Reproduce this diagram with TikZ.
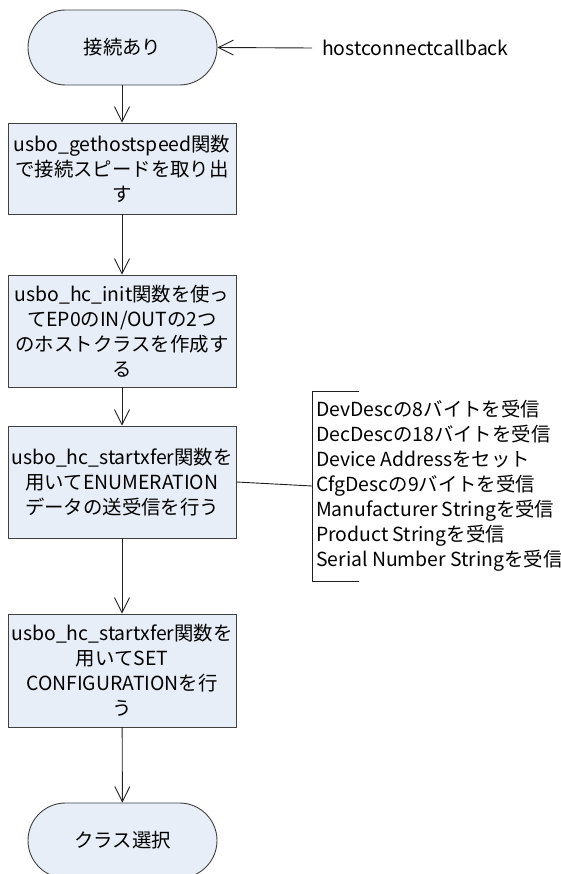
\documentclass[tikz,border=0pt]{standalone}
\usepackage{fontspec}
\setmainfont{Noto Sans CJK JP}
\usetikzlibrary{arrows.meta}
\definecolor{boxfill}{HTML}{E8EEF8}
\definecolor{boxline}{HTML}{404040}
\definecolor{conn}{HTML}{202020}
\tikzset{
  procbox/.style={draw=boxline, fill=boxfill, line width=0.9pt, minimum width=228pt, align=center, inner sep=0pt, font=\fontsize{19.4}{25}\selectfont},
  termbox/.style={draw=boxline, fill=boxfill, line width=0.9pt, minimum width=189pt, minimum height=75pt, rounded corners=37.5pt, inner sep=0pt, font=\fontsize{19.4}{25}\selectfont},
  flow/.style={draw=conn, line width=0.9pt, -{Straight Barb[length=15pt,width=15pt,line width=0.9pt]}},
  plain/.style={draw=conn, line width=0.9pt},
  lbl/.style={inner sep=0pt, align=left, font=\fontsize{19.4}{25}\selectfont}
}
\begin{document}
\begin{tikzpicture}[x=1pt,y=-1pt]
\useasboundingbox (0,0) rectangle (561,874);
\clip (0,0) rectangle (561,874);
\node[termbox] (start) at (122.5,47.5) {接続あり};
\node[procbox, minimum height=91pt] (b1) at (122,168.5) {usbo\_gethostspeed関数\\で接続スピードを取り出\\す};
\node[procbox, minimum height=112pt] (b2) at (122,331) {usbo\_hc\_init関数を使っ\\てEP0のIN/OUTの2つ\\のホストクラスを作成す\\る};
\node[procbox, minimum height=112pt] (b3) at (122,482) {usbo\_hc\_startxfer関数を\\用いてENUMERATION\\データの送受信を行う};
\node[procbox, minimum height=113pt] (b4) at (122,670.5) {usbo\_hc\_startxfer関数を\\用いてSET\\CONFIGURATIONを行\\う};
\node[termbox] (end) at (122.5,840.5) {クラス選択};
\node[lbl, anchor=west] (cb) at (322,48) {hostconnectcallback};
\coordinate (cbstart) at (312,48);
\draw[flow] (cbstart) -- (start.east);
\draw[flow] (start.south -| b1.north) -- (b1.north);
\draw[flow] (b1) -- (b2);
\draw[flow] (b2) -- (b3);
\draw[flow] (b3) -- (b4);
\draw[flow] (b4) -- (end);
\coordinate (brtop) at (359,391);
\coordinate (brbot) at (359,581);
\coordinate (brmid) at (312,486);
\draw[plain] (brtop) -- (312,391) -- (312,581) -- (brbot);
\draw[plain] (b3.east) -- (brmid);
\node[lbl, anchor=west] (notes) at (316,486) {DevDescの8バイトを受信\\DecDescの18バイトを受信\\Device Addressをセット\\CfgDescの9バイトを受信\\Manufacturer Stringを受信\\Product Stringを受信\\Serial Number Stringを受信};
\end{tikzpicture}
\end{document}
